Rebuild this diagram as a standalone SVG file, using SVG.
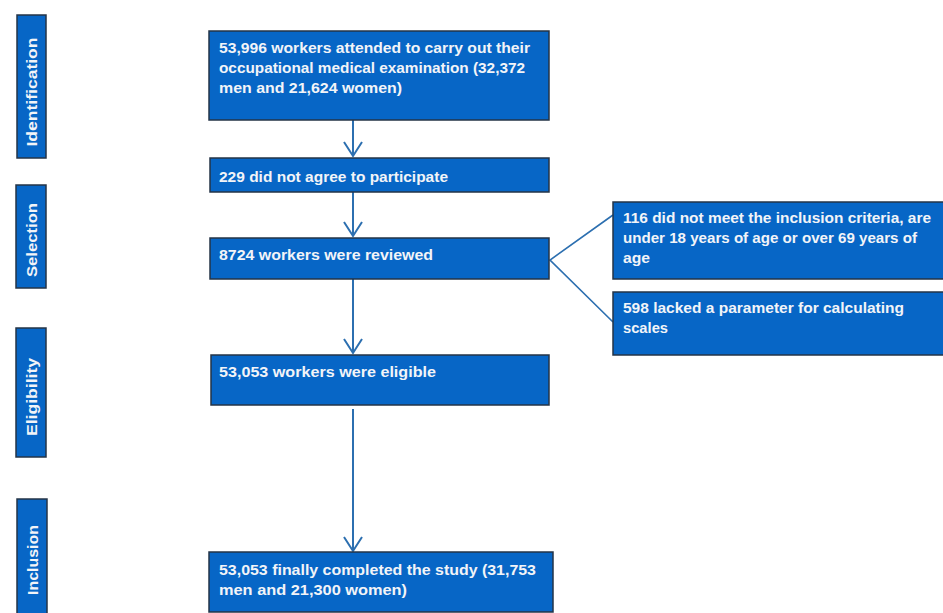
<svg xmlns="http://www.w3.org/2000/svg" width="943" height="613" viewBox="0 0 943 613">
<style>
.box{fill:#0766c6;stroke:#243447;stroke-width:1.5}
.t{font-family:"Liberation Sans",Arial,sans-serif;font-weight:bold;font-size:15px;fill:#f2f4f8}
.s{font-family:"Liberation Sans",Arial,sans-serif;font-weight:bold;font-size:15px;fill:#f2f4f8;text-anchor:middle}
.c{fill:none;stroke:#2c6fb0;stroke-width:2}
.f{fill:none;stroke:#2c6fb0;stroke-width:1.6}
</style>
<rect width="943" height="613" fill="#ffffff"/>
<g id="lbl-identification"><rect class="box" x="17" y="15" width="29" height="143"/><text class="s" transform="translate(37,92) rotate(-90)" textLength="109" lengthAdjust="spacingAndGlyphs">Identification</text></g>
<g id="lbl-selection"><rect class="box" x="16" y="185" width="30" height="103"/><text class="s" transform="translate(37,240) rotate(-90)" textLength="74" lengthAdjust="spacingAndGlyphs">Selection</text></g>
<g id="lbl-eligibility"><rect class="box" x="16" y="328" width="30" height="129"/><text class="s" transform="translate(37,397) rotate(-90)" textLength="78" lengthAdjust="spacingAndGlyphs">Eligibility</text></g>
<g id="lbl-inclusion"><rect class="box" x="17" y="499" width="30" height="122"/><text class="s" transform="translate(38,560) rotate(-90)" textLength="70" lengthAdjust="spacingAndGlyphs">Inclusion</text></g>
<g id="connectors">
<path class="c" d="M353,120 V156 M344,142 L353,156 L362,142"/>
<path class="c" d="M353,192 V236 M344,222 L353,236 L362,222"/>
<path class="c" d="M353,279 V353 M344,339 L353,353 L362,339"/>
<path class="c" d="M353,409 V551 M344,537 L353,551 L362,537"/>
<path class="f" d="M613,215 L550,260 L613,322"/>
</g>
<g id="n1"><rect class="box" x="209" y="31" width="340" height="89"/>
<text class="t" x="219" y="53" textLength="311" lengthAdjust="spacingAndGlyphs">53,996  workers attended to carry out their</text>
<text class="t" x="219" y="73" textLength="306" lengthAdjust="spacingAndGlyphs">occupational medical examination (32,372</text>
<text class="t" x="219" y="93" textLength="183" lengthAdjust="spacingAndGlyphs">men and 21,624 women)</text></g>
<g id="n2"><rect class="box" x="210" y="158" width="339" height="34"/>
<text class="t" x="219" y="182" textLength="229" lengthAdjust="spacingAndGlyphs">229 did not agree to participate</text></g>
<g id="n3"><rect class="box" x="210" y="238" width="339" height="41"/>
<text class="t" x="219" y="260" textLength="214" lengthAdjust="spacingAndGlyphs">8724  workers were reviewed</text></g>
<g id="n4"><rect class="box" x="211" y="355" width="338" height="50"/>
<text class="t" x="219" y="377" textLength="217" lengthAdjust="spacingAndGlyphs">53,053  workers  were eligible</text></g>
<g id="n5"><rect class="box" x="209" y="552" width="344" height="60"/>
<text class="t" x="219" y="575" textLength="317" lengthAdjust="spacingAndGlyphs">53,053  finally completed   the study (31,753</text>
<text class="t" x="219" y="595" textLength="188" lengthAdjust="spacingAndGlyphs">men and  21,300  women)</text></g>
<g id="n6"><rect class="box" x="613" y="202" width="335" height="77"/>
<text class="t" x="623" y="223" textLength="308" lengthAdjust="spacingAndGlyphs">116  did not  meet the inclusion criteria, are</text>
<text class="t" x="623" y="243" textLength="294" lengthAdjust="spacingAndGlyphs">under 18  years of age or over 69 years of</text>
<text class="t" x="623" y="263" textLength="27" lengthAdjust="spacingAndGlyphs">age</text></g>
<g id="n7"><rect class="box" x="613" y="292" width="335" height="63"/>
<text class="t" x="623" y="313" textLength="281" lengthAdjust="spacingAndGlyphs">598   lacked a parameter for calculating</text>
<text class="t" x="623" y="333" textLength="45" lengthAdjust="spacingAndGlyphs">scales</text></g>
</svg>
